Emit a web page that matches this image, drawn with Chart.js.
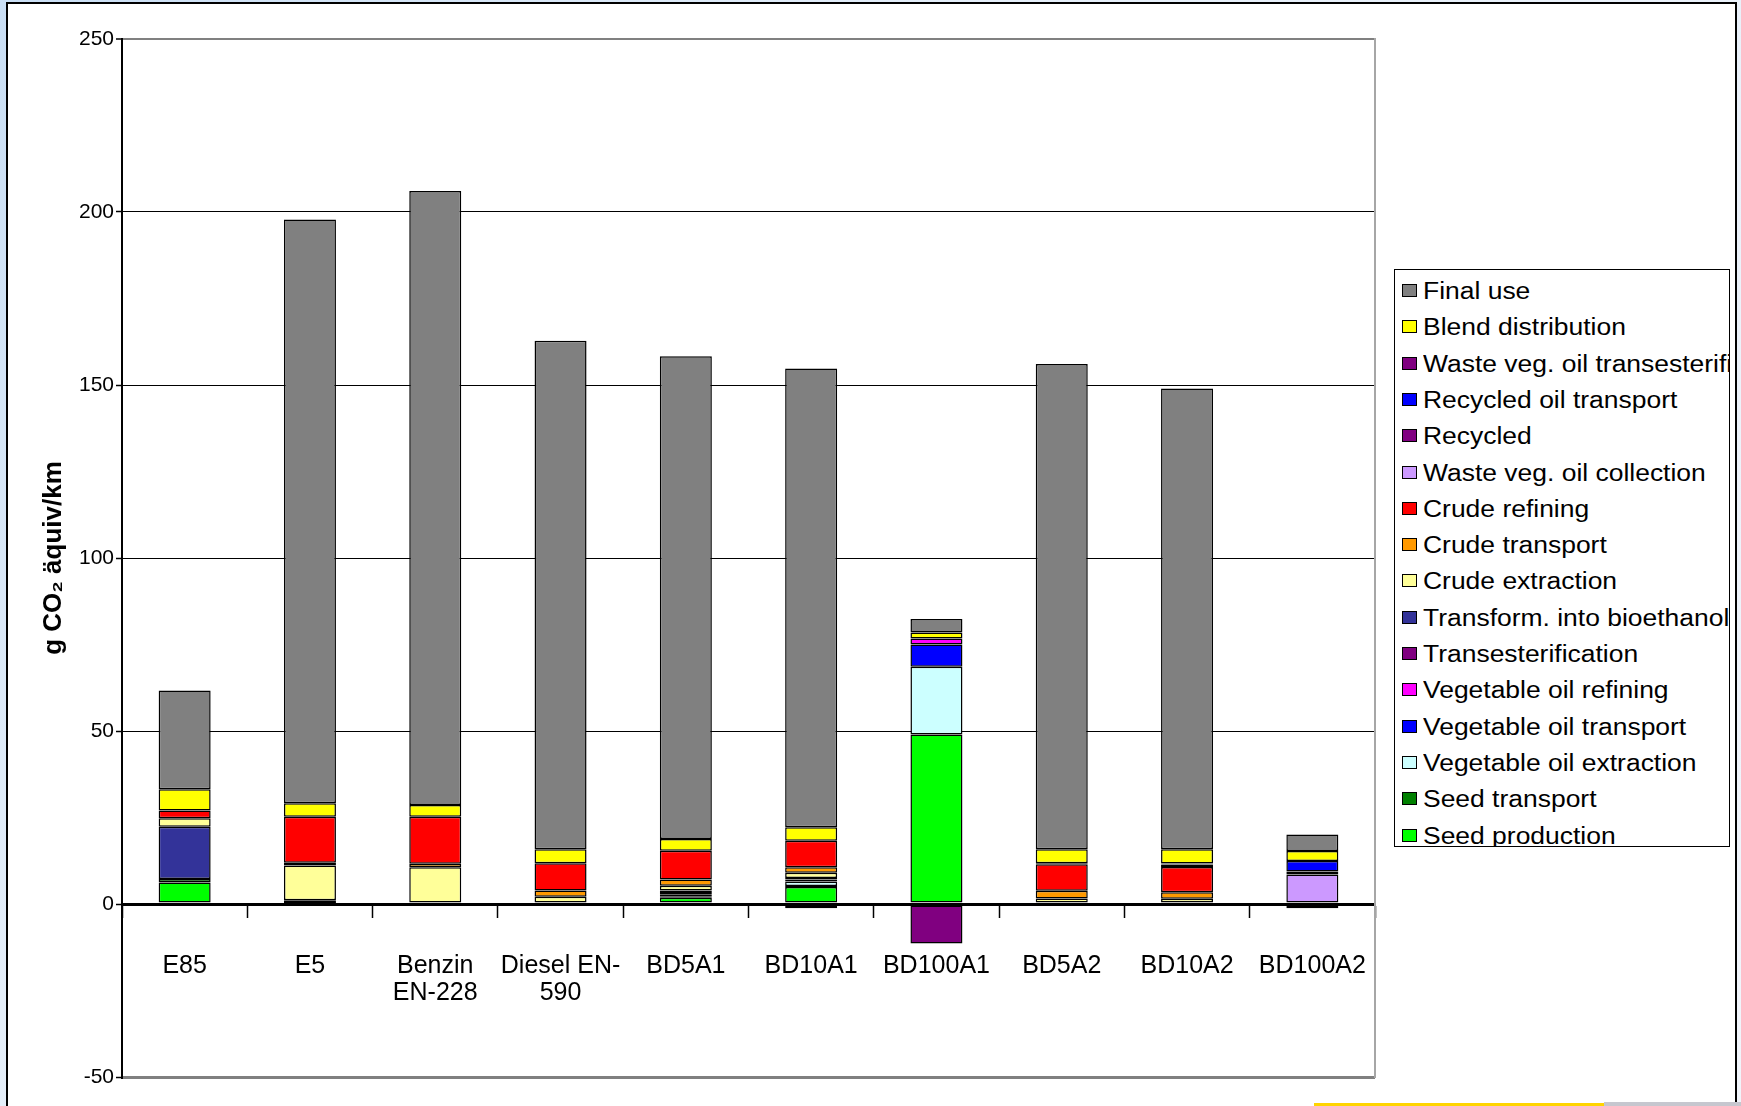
<!DOCTYPE html>
<html>
<head>
<meta charset="utf-8">
<script src="https://cdn.jsdelivr.net/npm/chart.js@4.4.1/dist/chart.umd.min.js"></script>
<style>
html,body{margin:0;padding:0;width:1741px;height:1106px;overflow:hidden;
  background:linear-gradient(135deg,#c9def4 0%,#e4eef9 35%,#f1f5fb 100%);
  font-family:"Liberation Sans",Arial,sans-serif;}
#panel{position:absolute;left:6px;top:2px;width:1727px;height:1200px;background:#fff;border:2px solid #000;}
#chart{position:absolute;left:0;top:0;}
#legend{position:absolute;left:1394px;top:269px;width:334px;height:576px;border:1.5px solid #000;background:#fff;overflow:hidden;}
.row{position:absolute;left:0;height:36px;width:600px;white-space:nowrap;}
.sw{position:absolute;left:7px;top:10px;width:13px;height:11px;border:1.5px solid #000;}
.tx{position:absolute;left:28px;top:0;line-height:34px;font-size:23px;color:#000;transform:scaleX(1.15);transform-origin:0 50%;}
#yel{position:absolute;left:1314px;top:1103px;width:290px;height:3px;background:#ffd400;}
#gry{position:absolute;left:1604px;top:1102px;width:137px;height:4px;background:#c6c7cf;}
</style>
</head>
<body>
<div id="panel"></div>
<canvas id="chart" width="1741" height="1106"></canvas>
<div id="legend"></div>
<div id="yel"></div><div id="gry"></div>
<script>
// Categories (x axis)
const categories = ["E85", "E5", ["Benzin", "EN-228"], ["Diesel EN-", "590"], "BD5A1", "BD10A1", "BD100A1", "BD5A2", "BD10A2", "BD100A2"];

// Series values, g CO2 equiv/km (stack order bottom -> top)
const seedProduction        = [6.2, 0.3, 0,    0,    1.8, 4.9, 49.0,  0,    0,    0];
const seedTransport         = [1.0, 0,   0,    0,    0.3, 0.3, 0,     0,    0,    0];
const vegOilExtraction      = [0,   0,   0,    0,    0.7, 1.3, 19.6,  0,    0,    0];
const vegOilTransport       = [0,   0,   0,    0,    0.7, 0.6, 6.4,   0,    0,    0];
const vegOilRefining        = [0,   0,   0,    0,    0.4, 0.4, 1.7,   0,    0,    0];
const transesterification   = [0,   0,   0,    0,   -0.6,-1.2,-11.4,  0,    0,    0];
const transformBioethanol   = [15.1,0.8, 0,    0,    0,   0,   0,     0,    0,    0];
const crudeExtraction       = [2.5, 10.0,10.6, 2.1,  1.4, 1.5, 0,     1.6,  1.5,  0];
const crudeTransport        = [0,   0.8, 1.0,  1.8,  1.8, 1.6, 0,     2.2,  1.9,  0];
const crudeRefining         = [2.2, 13.3,13.6, 7.9,  8.3, 7.7, 0,     7.7,  7.3,  0];
const wasteOilCollection    = [0,   0,   0,    0,    0,   0,   0,     0.3,  0.6,  8.5];
const recycled              = [0,   0,   0,    0,    0,   0,   0,     0,    0.1,  0.9];
const recycledOilTransport  = [0,   0,   0,    0,    0,   0,   0,     0,    0.3,  3.0];
const wasteOilTransesterif  = [0,   0,   0,    0,    0,   0,   0,     0,    0,   -1.2];
const blendDistribution     = [6.2, 3.9, 3.4,  4.0,  3.4, 3.9, 1.8,   4.0,  4.1,  2.9];
const finalUse              = [28.5,168.7,177.5,147.0,139.5,132.6,3.9,140.3,133.2, 4.8];

// Y axis ticks
const yTicks = [-50, 0, 50, 100, 150, 200, 250];

const seriesNames = ["Seed production","Seed transport","Vegetable oil extraction","Vegetable oil transport",
  "Vegetable oil refining","Transesterification","Transform. into bioethanol","Crude extraction",
  "Crude transport","Crude refining","Waste veg. oil collection","Recycled","Recycled oil transport",
  "Waste veg. oil transesterification","Blend distribution","Final use"];
const seriesValues = [seedProduction,seedTransport,vegOilExtraction,vegOilTransport,vegOilRefining,
  transesterification,transformBioethanol,crudeExtraction,crudeTransport,crudeRefining,
  wasteOilCollection,recycled,recycledOilTransport,wasteOilTransesterif,blendDistribution,finalUse];
const seriesColors = ["#00ff00","#008000","#ccffff","#0000ff","#ff00ff","#800080","#333399","#ffff99",
  "#ff9900","#ff0000","#cc99ff","#800080","#0000ff","#800080","#ffff00","#808080"];

const FONT = "'Liberation Sans', Arial, sans-serif";

const datasets = seriesNames.map((n, i) => ({
  label: n,
  data: seriesValues[i],
  backgroundColor: seriesColors[i],
  borderColor: "#000",
  borderWidth: 1.5,
  borderSkipped: false,
  barPercentage: 0.415,
  categoryPercentage: 1.0
}));

new Chart(document.getElementById("chart"), {
  type: "bar",
  data: { labels: categories, datasets },
  options: {
    responsive: false,
    devicePixelRatio: 1,
    animation: false,
    layout: { padding: { left: 20, right: 366, top: 39, bottom: 29 } },
    plugins: { legend: { display: false }, tooltip: { enabled: false } },
    scales: {
      x: {
        stacked: true,
        position: { y: 0 },
        grid: { drawOnChartArea: false, offset: true, tickLength: 12, tickColor: "#000", tickWidth: 1.5 },
        border: { color: "#000", width: 3 },
        ticks: { color: "#000", padding: 36, maxRotation: 0, autoSkip: false,
                 font: { family: FONT, size: 25, lineHeight: 1.1 } }
      },
      y: {
        stacked: true,
        min: -50, max: 250,
        afterBuildTicks: s => { s.ticks = yTicks.map(v => ({ value: v })); },
        afterFit: s => { s.width = 102; },
        ticks: { color: "#000", padding: 2, font: { family: FONT, size: 21 } },
        grid: {
          color: c => (c.tick && (c.tick.value === -50 || c.tick.value === 250)) ? "#808080" : "#000",
          lineWidth: c => !c.tick ? 1 : (c.tick.value === 0 || c.tick.value === -50) ? 3 : (c.tick.value === 250 ? 2 : 1),
          tickLength: 6, tickColor: "#000", tickWidth: 1.5
        },
        border: { color: "#000", width: 2 },
        title: { display: true, text: "g CO\u2082 äquiv/km", color: "#000", padding: { top: 18, bottom: 0 },
                 font: { family: FONT, size: 26, weight: "bold" } }
      },
      y2: {
        position: "right",
        min: -50, max: 250,
        display: true,
        ticks: { display: false },
        grid: { drawOnChartArea: false, drawTicks: false },
        border: { color: "#a6a6a6", width: 2 },
        afterFit: s => { s.width = 0; }
      }
    }
  }
});

// HTML legend built from the datasets (top of stack first)
const lg = document.getElementById("legend");
const order = seriesNames.map((_, i) => i).reverse();
order.forEach((idx, r) => {
  const row = document.createElement("div");
  row.className = "row";
  row.style.top = (4 + r * 36.3) + "px";
  const sw = document.createElement("div");
  sw.className = "sw";
  sw.style.background = seriesColors[idx];
  const tx = document.createElement("div");
  tx.className = "tx";
  tx.textContent = seriesNames[idx];
  row.appendChild(sw); row.appendChild(tx);
  lg.appendChild(row);
});
</script>
</body>
</html>
